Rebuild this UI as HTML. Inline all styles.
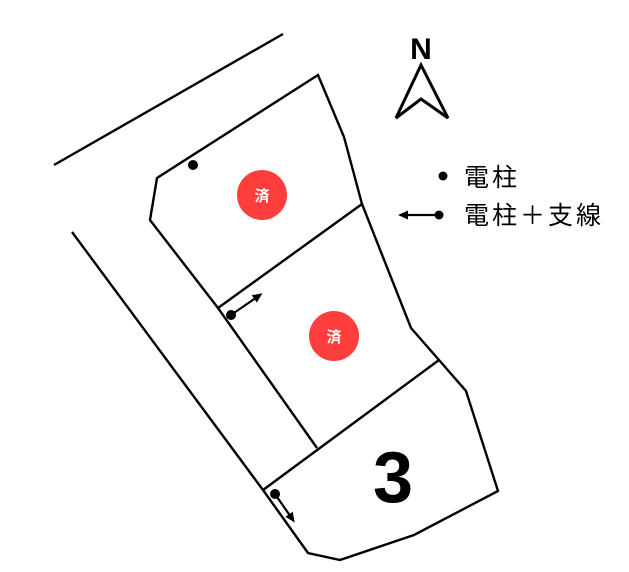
<!DOCTYPE html>
<html><head><meta charset="utf-8"><style>
body{margin:0;background:#fff;width:629px;height:572px;overflow:hidden}
svg{display:block}
text{font-family:"Liberation Sans","Noto Sans CJK JP",sans-serif}
</style></head><body>
<svg width="629" height="572" viewBox="0 0 629 572">
<defs><marker id="ah" markerWidth="10" markerHeight="10" refX="7" refY="5" orient="auto" markerUnits="userSpaceOnUse"><path d="M0,0.5 L10,5 L0,9.5 Z" fill="#000"/></marker></defs>
<g fill="none" stroke="#000" stroke-width="2.4" stroke-linejoin="miter">
<line x1="54" y1="165" x2="283" y2="34"/>
<polyline points="72,232 263,490 308,553 340,560 414,535 498,491 466,391 439,360 411,328 362,204 344,137 318,75 157,178 150,220 218,308 317,448"/>
<line x1="218" y1="308" x2="362" y2="204"/>
<line x1="263" y1="490" x2="439" y2="360"/>
<polygon points="421,65 396,118 421,99 448,118" stroke-width="3"/>
</g>
<g stroke="#000" stroke-width="2.2">
<line x1="231" y1="315" x2="260" y2="295" marker-end="url(#ah)"/>
<line x1="275" y1="494" x2="293" y2="520" marker-end="url(#ah)"/>
<line x1="440" y1="215" x2="401" y2="215" marker-end="url(#ah)"/>
</g>
<g fill="#000">
<circle cx="193" cy="165" r="5"/>
<circle cx="231" cy="315" r="5"/>
<circle cx="275" cy="494" r="5"/>
<circle cx="443" cy="176" r="4.5"/>
<circle cx="439" cy="215" r="4.5"/>
</g>
<circle cx="262" cy="195" r="25" fill="#fe3d3d"/>
<circle cx="334" cy="336" r="25" fill="#fe3d3d"/>
<text x="262" y="201" font-size="15" font-weight="bold" fill="#fff" text-anchor="middle">済</text>
<text x="334" y="342" font-size="15" font-weight="bold" fill="#fff" text-anchor="middle">済</text>
<text x="421" y="59" font-size="30" font-weight="bold" text-anchor="middle">N</text>
<text x="464" y="186" font-size="25" letter-spacing="3">電柱</text>
<text x="464" y="224" font-size="25" letter-spacing="3">電柱＋支線</text>
<text x="393" y="502" font-size="72" font-weight="bold" text-anchor="middle">3</text>
</svg>
</body></html>
